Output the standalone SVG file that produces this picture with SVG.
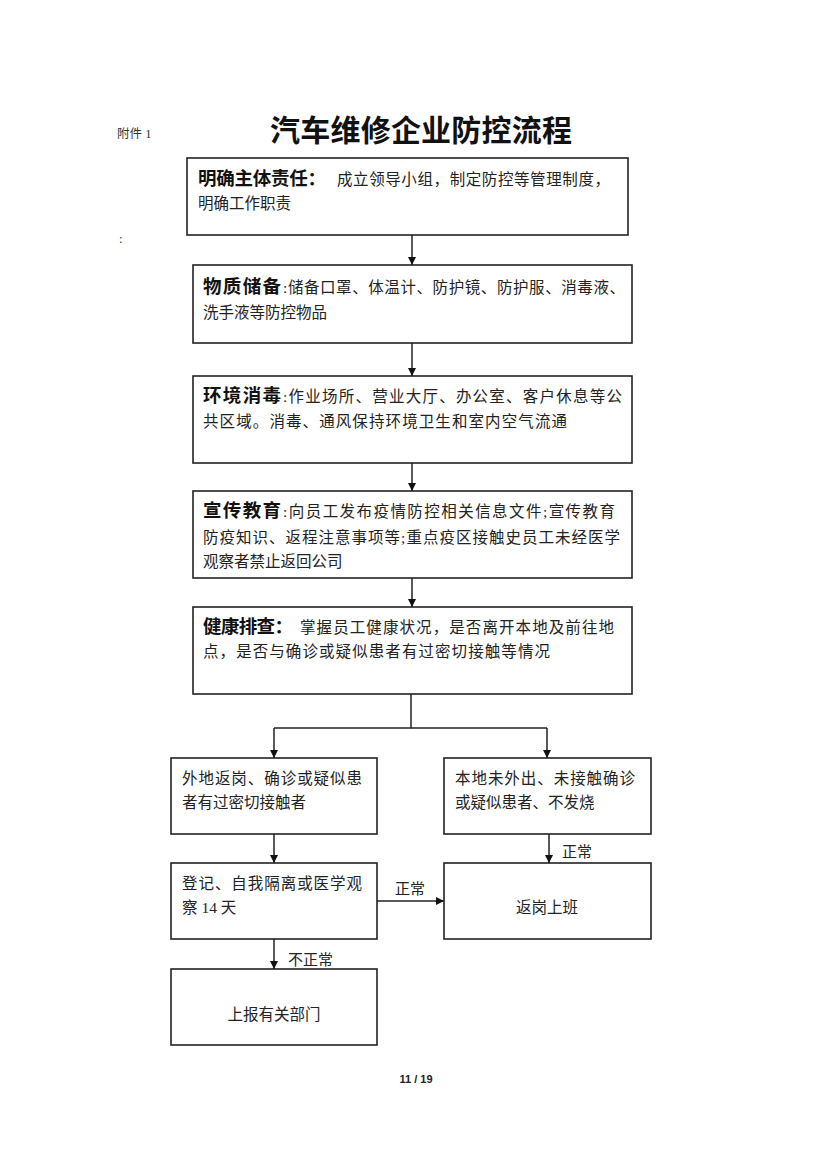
<svg xmlns="http://www.w3.org/2000/svg" width="827" height="1169" viewBox="0 0 827 1169">
<style>
.box{fill:#fff;stroke:#222;stroke-width:1.6}
.ln{stroke:#222;stroke-width:1.5;fill:none}
.h{font-family:"Noto Sans CJK SC","Liberation Sans",sans-serif;font-weight:bold;font-size:18.5px;fill:#111}
.b{font-family:"Liberation Serif","Noto Sans CJK SC",serif;font-size:15.5px;fill:#222}
.lab{font-family:"Liberation Serif","Noto Sans CJK SC",serif;font-size:15px;fill:#222}
</style>
<defs>
<marker id="ah" markerWidth="8" markerHeight="8" refX="8" refY="4" orient="auto" markerUnits="userSpaceOnUse">
<path d="M0,0 L8,4 L0,8 Z" fill="#111"/>
</marker>
</defs>
<rect width="827" height="1169" fill="#fff"/>
<text x="117" y="138" font-family="Liberation Serif,Noto Sans CJK SC,serif" font-size="12.5" fill="#333">附件 1</text>
<text x="270" y="141" font-family="Noto Sans CJK SC,sans-serif" font-weight="bold" font-size="30" fill="#111" textLength="302">汽车维修企业防控流程</text>
<text x="119" y="243" font-family="Liberation Serif,serif" font-size="13" fill="#333">:</text>

<g id="n1">
<rect class="box" x="187" y="158" width="441" height="77"/>
<text class="h" x="198" y="185" textLength="128">明确主体责任：</text>
<text class="b" x="337" y="185" textLength="273">成立领导小组，制定防控等管理制度，</text>
<text class="b" x="198" y="209">明确工作职责</text>
</g>
<g id="n2">
<rect class="box" x="193" y="265" width="439" height="78"/>
<text class="h" x="203" y="293" textLength="78">物质储备</text>
<text class="b" x="283" y="293" textLength="342">:储备口罩、体温计、防护镜、防护服、消毒液、</text>
<text class="b" x="203" y="318">洗手液等防控物品</text>
</g>
<g id="n3">
<rect class="box" x="193" y="376" width="439" height="87"/>
<text class="h" x="203" y="402" textLength="78">环境消毒</text>
<text class="b" x="283" y="402" textLength="339">:作业场所、营业大厅、办公室、客户休息等公</text>
<text class="b" x="203" y="427" textLength="364">共区域。消毒、通风保持环境卫生和室内空气流通</text>
</g>
<g id="n4">
<rect class="box" x="193" y="491" width="439" height="87"/>
<text class="h" x="203" y="517" textLength="78">宣传教育</text>
<text class="b" x="283" y="517" textLength="332">:向员工发布疫情防控相关信息文件;宣传教育</text>
<text class="b" x="203" y="543" textLength="417">防疫知识、返程注意事项等;重点疫区接触史员工未经医学</text>
<text class="b" x="203" y="567">观察者禁止返回公司</text>
</g>
<g id="n5">
<rect class="box" x="193" y="607" width="439" height="87"/>
<text class="h" x="203" y="633" textLength="90">健康排查：</text>
<text class="b" x="300" y="633" textLength="314">掌握员工健康状况，是否离开本地及前往地</text>
<text class="b" x="203" y="657" textLength="347">点，是否与确诊或疑似患者有过密切接触等情况</text>
</g>
<g id="n6">
<rect class="box" x="171" y="758" width="206" height="76"/>
<text class="b" x="182" y="784" textLength="180">外地返岗、确诊或疑似患</text>
<text class="b" x="182" y="808">者有过密切接触者</text>
</g>
<g id="n7">
<rect class="box" x="444" y="758" width="207" height="76"/>
<text class="b" x="455" y="784" textLength="180">本地未外出、未接触确诊</text>
<text class="b" x="455" y="808">或疑似患者、不发烧</text>
</g>
<g id="n8">
<rect class="box" x="171" y="863" width="206" height="76"/>
<text class="b" x="182" y="889" textLength="180">登记、自我隔离或医学观</text>
<text class="b" x="182" y="913">察 14 天</text>
</g>
<g id="n9">
<rect class="box" x="444" y="863" width="207" height="76"/>
<text class="b" x="547" y="913" text-anchor="middle">返岗上班</text>
</g>
<g id="n10">
<rect class="box" x="171" y="969" width="206" height="76"/>
<text class="b" x="274" y="1020" text-anchor="middle">上报有关部门</text>
</g>

<g id="connectors">
<line class="ln" x1="412" y1="235" x2="412" y2="265" marker-end="url(#ah)"/>
<line class="ln" x1="412" y1="343" x2="412" y2="376" marker-end="url(#ah)"/>
<line class="ln" x1="412" y1="463" x2="412" y2="491" marker-end="url(#ah)"/>
<line class="ln" x1="412" y1="578" x2="412" y2="607" marker-end="url(#ah)"/>
<polyline class="ln" points="411,694 411,728 274,728"/>
<line class="ln" x1="411" y1="728" x2="547" y2="728"/>
<line class="ln" x1="274" y1="728" x2="274" y2="758" marker-end="url(#ah)"/>
<line class="ln" x1="547" y1="728" x2="547" y2="758" marker-end="url(#ah)"/>
<line class="ln" x1="274" y1="834" x2="274" y2="863" marker-end="url(#ah)"/>
<line class="ln" x1="549" y1="834" x2="549" y2="863" marker-end="url(#ah)"/>
<line class="ln" x1="377" y1="901" x2="444" y2="901" marker-end="url(#ah)"/>
<line class="ln" x1="274" y1="939" x2="274" y2="969" marker-end="url(#ah)"/>
<text class="lab" x="562" y="857">正常</text>
<text class="lab" x="395" y="894">正常</text>
<text class="lab" x="288" y="965">不正常</text>
</g>

<text x="416" y="1083" text-anchor="middle" font-family="Liberation Sans,sans-serif" font-weight="bold" font-size="11" fill="#222">11 / 19</text>
</svg>
